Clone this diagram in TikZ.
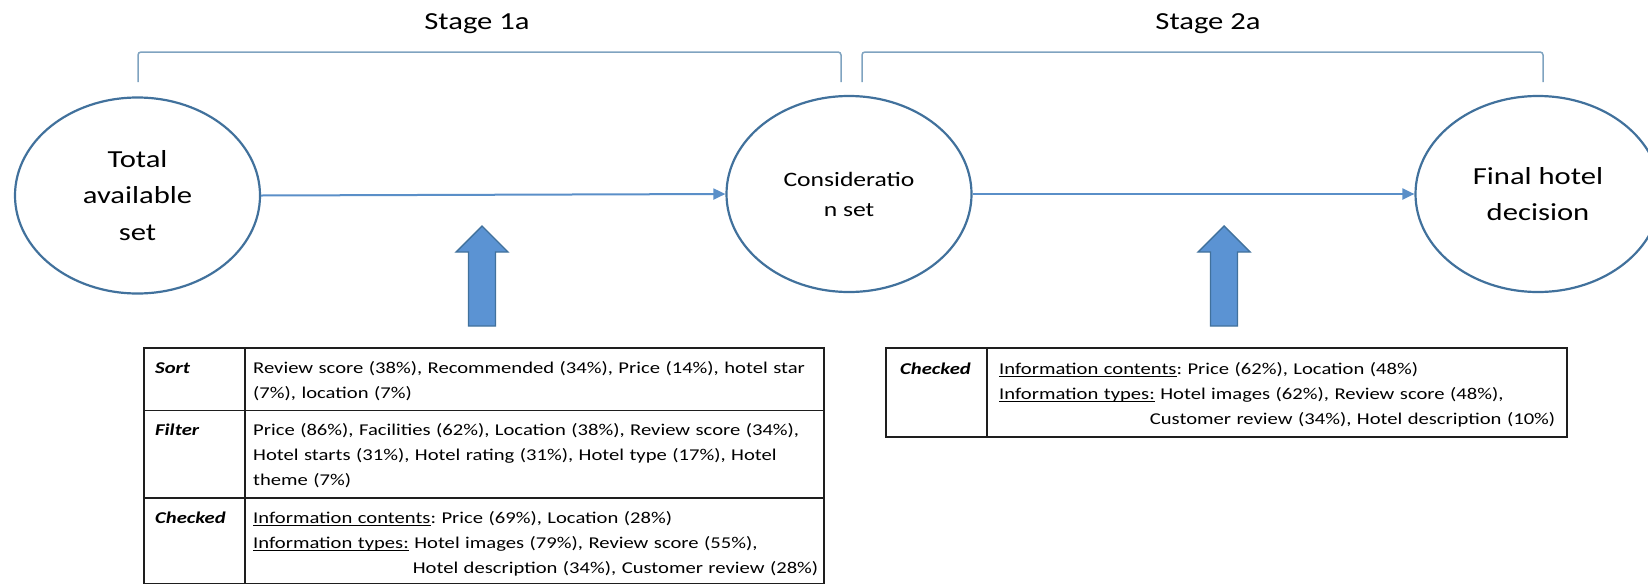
\documentclass[tikz,border=0pt]{standalone}
\usepackage{fontspec}
\setmainfont{Carlito}[FakeStretch=1.25]
\usetikzlibrary{arrows.meta,shapes.geometric}
\definecolor{ellc}{HTML}{41719C}
\definecolor{linec}{HTML}{5A8FC8}
\definecolor{brkc}{HTML}{7FA3C0}
\definecolor{blkfill}{HTML}{5B93D3}
\definecolor{blkdraw}{HTML}{41719C}
\definecolor{tblc}{HTML}{1E1E1E}
\newcommand{\myul}[1]{\leavevmode\setbox0=\hbox{#1}\rlap{\rule[-2.8pt]{\wd0}{1.1pt}}\box0\relax}
\frenchspacing
\begin{document}
\begin{tikzpicture}[x=1pt,y=-1pt,
  setnode/.style={ellipse, draw=ellc, line width=2.2pt, minimum width=245pt, minimum height=196pt, inner sep=0pt, align=center},
  bigtext/.style={font=\fontsize{24.5}{36.7}\selectfont},
  flow/.style={draw=linec, line width=2pt, -{Triangle[length=12pt,width=11pt]}},
  brk/.style={draw=brkc, line width=1.5pt, rounded corners=3pt},
  stagelbl/.style={font=\fontsize{24.5}{29}\selectfont, anchor=base, inner sep=0pt},
  tbl/.style={draw=tblc, line width=1.8pt},
  cell/.style={anchor=north west, inner sep=0pt, align=left, font=\fontsize{16.5}{24.8}\selectfont\frenchspacing},
  uparrow/.pic={\draw[fill=blkfill, draw=blkdraw, line width=1.4pt, line join=miter]
     (0,0) -- (26,26) -- (13.5,26) -- (13.5,100) -- (-13.5,100) -- (-13.5,26) -- (-26,26) -- cycle;}
]
\useasboundingbox (0,0) rectangle (1648,584);

% stage labels and brackets
\node[stagelbl] (s1) at (477,29) {Stage 1a};
\node[stagelbl] (s2) at (1208,29) {Stage 2a};
\draw[brk] (138,82) -- (138,52) -- (841,52) -- (841,82);
\draw[brk] (862,82) -- (862,52) -- (1543,52) -- (1543,82);

% sets
\node[setnode, bigtext] (total) at (137.5,195.5) {Total\\available\\set};
\node[setnode, font=\fontsize{20.5}{30}\selectfont] (cons) at (849,194) {Consideratio\\n set};
\node[setnode, bigtext] (final) at (1538,194) {Final hotel\\decision};

\draw[flow] (total.east) -- (cons.west);
\draw[flow] (cons.east) -- (final.west);

% block arrows
\pic (ua1) at (482,226) {uparrow};
\pic (ua2) at (1224,226) {uparrow};

% table 1
\draw[tbl] (144,348) rectangle (824,583.5);
\draw[tbl] (245,348) -- (245,583.5);
\draw[tbl] (144,410.5) -- (824,410.5);
\draw[tbl] (144,498) -- (824,498);

\node[cell] (t1a) at (155,356) {\strut\textbf{\textit{Sort}}};
\node[cell, text width=565pt] (t1b) at (253,356) {\strut Review score (38\%), Recommended (34\%), Price (14\%), hotel star\\(7\%), location (7\%)};
\node[cell] (t1c) at (155,418) {\strut\textbf{\textit{Filter}}};
\node[cell, text width=565pt] (t1d) at (253,418) {\strut Price (86\%), Facilities (62\%), Location (38\%), Review score (34\%),\\Hotel starts (31\%), Hotel rating (31\%), Hotel type (17\%), Hotel\\theme (7\%)};
\node[cell] (t1e) at (155,506) {\strut\textbf{\textit{Checked}}};
\node[cell, text width=565pt] (t1f) at (253,506) {\strut\myul{Information contents}: Price (69\%), Location (28\%)\\\myul{Information types:} Hotel images (79\%), Review score (55\%),\\\hspace*{\fill}Hotel description (34\%), Customer review (28\%)\hspace*{12pt}};

% table 2
\draw[tbl] (886,348) rectangle (1567,437);
\draw[tbl] (987,348) -- (987,437);
\node[cell] (t2a) at (900,357) {\strut\textbf{\textit{Checked}}};
\node[cell, text width=556pt] (t2b) at (999,357) {\strut\myul{Information contents}: Price (62\%), Location (48\%)\\\myul{Information types:} Hotel images (62\%), Review score (48\%),\\\hspace*{\fill}Customer review (34\%), Hotel description (10\%)\hspace*{12pt}};
\end{tikzpicture}
\end{document}
